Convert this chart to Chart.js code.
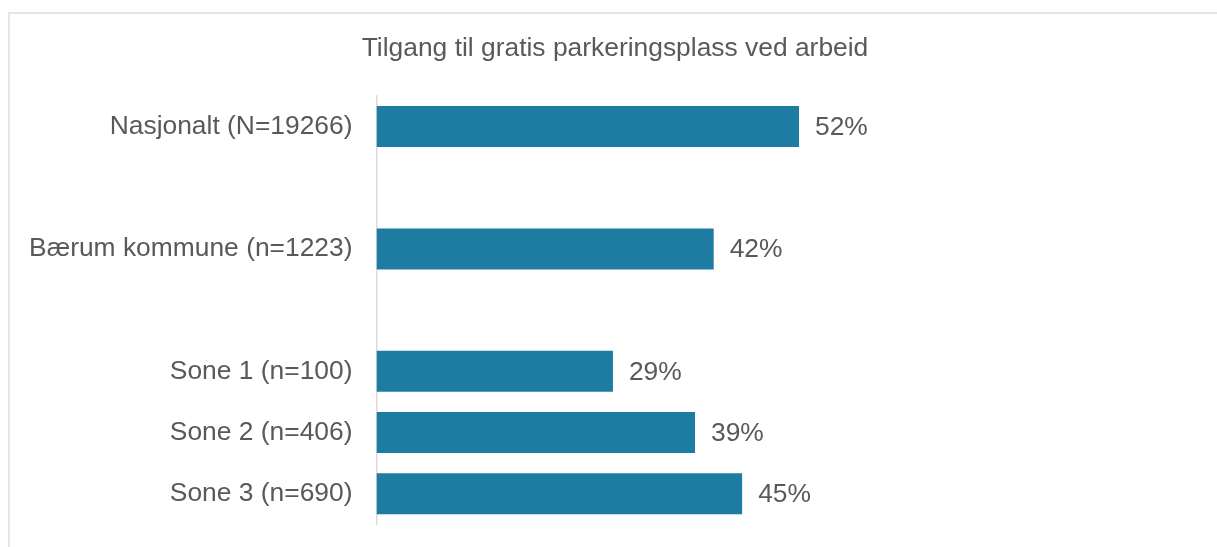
<!DOCTYPE html>
<html>
<head>
<meta charset="utf-8">
<script src="https://cdn.jsdelivr.net/npm/chart.js@4"></script>
<style>
  html, body { margin: 0; padding: 0; background: #ffffff; }
  #wrap { position: relative; width: 1217px; height: 547px; overflow: hidden; }
  #frame { position: absolute; left: 8px; top: 12px; width: 1300px; height: 600px;
           border-top: 2px solid #ece2e5; border-left: 2px solid #ece2e5; box-sizing: border-box; }
  canvas { position: absolute; left: 0; top: 0; }
</style>
</head>
<body>
<div id="wrap">
  <div id="frame"></div>
  <canvas id="c" width="1217" height="547"></canvas>
</div>
<script>
const chartTitle = 'Tilgang til gratis parkeringsplass ved arbeid';
const categories = ['Nasjonalt (N=19266)', '', 'Bærum kommune (n=1223)', '', 'Sone 1 (n=100)', 'Sone 2 (n=406)', 'Sone 3 (n=690)'];
const shares = [52, null, 41.5, null, 29.1, 39.2, 45];
const axisMin = 0;
const axisMax = 100;

const textColor = '#595959';
const barColor = '#1e7ca2';
const fontFamily = '"Liberation Sans", Arial, sans-serif';
const fontSize = 26.4;

const valueLabels = {
  id: 'valueLabels',
  afterDatasetsDraw(chart) {
    const ctx = chart.ctx;
    const meta = chart.getDatasetMeta(0);
    ctx.save();
    ctx.font = fontSize + 'px ' + fontFamily;
    ctx.fillStyle = textColor;
    ctx.textAlign = 'left';
    ctx.textBaseline = 'middle';
    meta.data.forEach((bar, i) => {
      const v = shares[i];
      if (v === null || v === undefined) return;
      ctx.fillText(Math.round(v) + '%', bar.x + 16, bar.y + 1);
    });
    ctx.restore();
  }
};

// centre the title over the region the original picture used
const titleShift = {
  id: 'titleShift',
  afterLayout(chart) {
    const tb = chart.titleBlock;
    if (tb) {
      tb.left = 41;
      tb.width = tb.right - tb.left;
    }
  }
};

new Chart(document.getElementById('c'), {
  type: 'bar',
  data: {
    labels: categories,
    datasets: [{
      data: shares,
      backgroundColor: barColor,
      borderWidth: 0,
      categoryPercentage: 1,
      barPercentage: 0.67
    }]
  },
  plugins: [valueLabels, titleShift],
  options: {
    indexAxis: 'y',
    responsive: false,
    animation: false,
    events: [],
    layout: { padding: { left: 0, right: 28, top: 0, bottom: 22.7 } },
    plugins: {
      legend: { display: false },
      tooltip: { enabled: false },
      title: {
        display: true,
        text: chartTitle,
        color: textColor,
        font: { family: fontFamily, size: fontSize, weight: 'normal', lineHeight: 1.2 },
        padding: { top: 32.5, bottom: 31.7 }
      }
    },
    scales: {
      x: { display: false, min: axisMin, max: axisMax },
      y: {
        grid: { display: false, drawTicks: false },
        border: { display: true, color: '#e3d7db', width: 1.5 },
        ticks: {
          color: textColor,
          font: { family: fontFamily, size: fontSize },
          padding: 24,
          autoSkip: false
        },
        afterFit(scale) {
          scale.width = 376.5;
          scale.paddingTop = 0;
          scale.paddingBottom = 0;
        }
      }
    }
  }
});
</script>
</body>
</html>
